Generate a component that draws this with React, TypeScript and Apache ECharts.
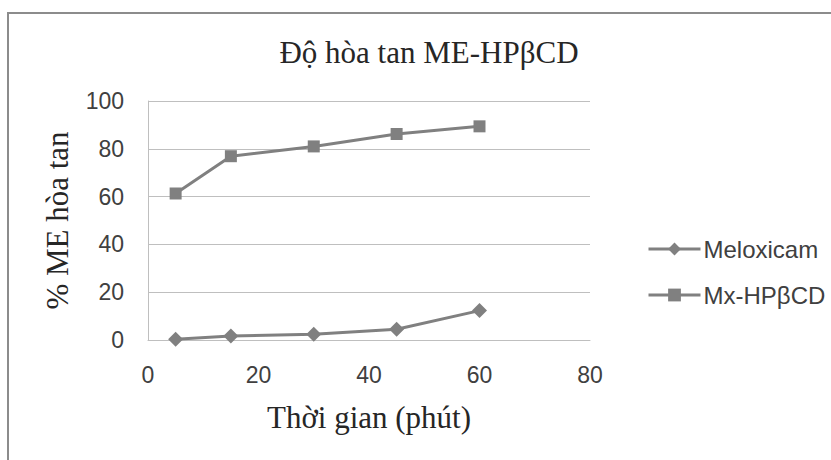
import React, { useEffect, useRef } from "react";
import * as echarts from "echarts";

const timePoints = [5, 15, 30, 45, 60];
const meloxicam = [0.3, 1.7, 2.4, 4.5, 12.3];
const mxHPbCD = [61.3, 76.9, 81.0, 86.2, 89.4];
const seriesNames = ["Meloxicam", "Mx-HPβCD"];
const titleText = "Độ hòa tan ME-HPβCD";
const xAxisName = "Thời gian (phút)";
const yAxisName = "% ME hòa tan";

export default function App() {
  const ref = useRef<HTMLDivElement>(null);
  useEffect(() => {
    document.body.style.margin = "0";
    const chart = echarts.init(ref.current!, null, { renderer: "svg" });
    const gray = "#808080";
    const serif = "'Liberation Serif', 'Times New Roman', serif";
    const sans = "'Liberation Sans', Arial, sans-serif";
    chart.setOption({
      animation: false,
      backgroundColor: "#ffffff",
      title: {
        text: titleText,
        left: 424,
        top: 32,
        textAlign: "center",
        textStyle: { fontFamily: serif, fontSize: 31, fontWeight: "normal", color: "#262626" },
      },
      graphic: [
        {
          type: "rect",
          shape: { x: 8, y: 13, width: 900, height: 600 },
          style: { fill: "none", stroke: "#8c8c8c", lineWidth: 2 },
          silent: true,
        },
      ],
      legend: {
        orient: "vertical",
        left: 642,
        top: 232,
        itemWidth: 52,
        itemHeight: 16,
        itemGap: 22,
        lineStyle: { width: 3 },
        textStyle: { fontFamily: sans, fontSize: 24, color: "#404040", padding: [0, 0, 0, -2] },
        data: seriesNames,
      },
      grid: { left: 148, right: 241, top: 101, bottom: 120, containLabel: false },
      xAxis: {
        type: "value",
        min: 0,
        max: 80,
        interval: 20,
        name: xAxisName,
        nameLocation: "middle",
        nameGap: 62,
        nameTextStyle: { fontFamily: serif, fontSize: 31, color: "#262626" },
        axisLine: { show: true, lineStyle: { color: "#bfbfbf", width: 1 } },
        axisTick: { show: false },
        splitLine: { show: false },
        axisLabel: { fontFamily: sans, fontSize: 23, color: "#404040", margin: 23 },
      },
      yAxis: {
        type: "value",
        min: 0,
        max: 100,
        interval: 20,
        name: yAxisName,
        nameLocation: "middle",
        nameGap: 75,
        nameRotate: 90,
        nameTextStyle: { fontFamily: serif, fontSize: 31, color: "#262626" },
        axisLine: { show: true, lineStyle: { color: "#bfbfbf", width: 1 } },
        axisTick: { show: false },
        splitLine: { show: true, lineStyle: { color: "#bfbfbf", width: 1 } },
        axisLabel: { fontFamily: sans, fontSize: 23, color: "#404040", margin: 24 },
      },
      series: [
        {
          name: seriesNames[0],
          type: "line",
          data: timePoints.map((t, i) => [t, meloxicam[i]]),
          symbol: "diamond",
          symbolSize: 15,
          lineStyle: { color: gray, width: 3 },
          itemStyle: { color: gray },
        },
        {
          name: seriesNames[1],
          type: "line",
          data: timePoints.map((t, i) => [t, mxHPbCD[i]]),
          symbol: "rect",
          symbolSize: 12,
          lineStyle: { color: gray, width: 3 },
          itemStyle: { color: gray },
        },
      ],
    });
    return () => chart.dispose();
  }, []);
  return <div ref={ref} style={{ width: 831, height: 460 }} />;
}
